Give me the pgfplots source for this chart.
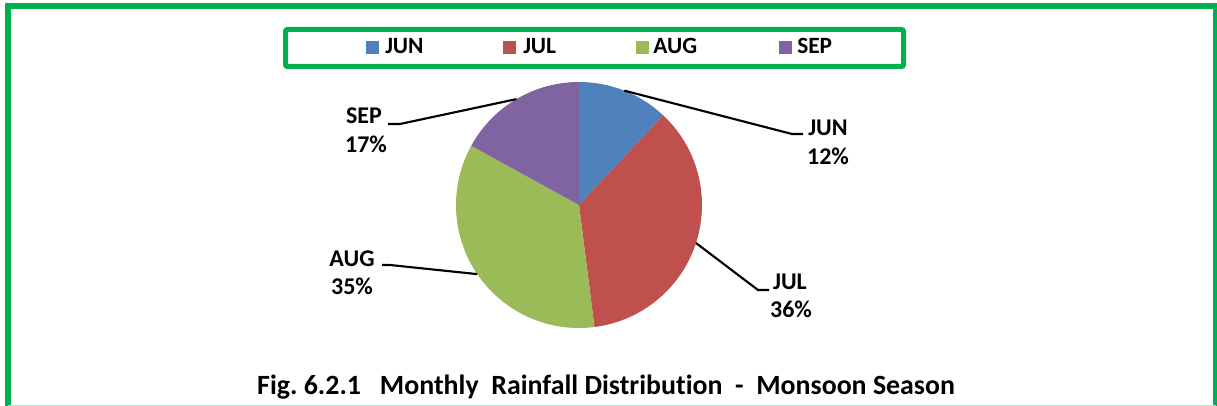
\documentclass[border=0pt]{standalone}
\usepackage{fontspec}
\setmainfont{Carlito}[Ligatures=NoCommon]
\usepackage{pgfplots}
\pgfplotsset{compat=1.18}
\definecolor{junc}{HTML}{4F81BD}
\definecolor{julc}{HTML}{C0504D}
\definecolor{augc}{HTML}{9BBB59}
\definecolor{sepc}{HTML}{8064A2}
\definecolor{boxgreen}{HTML}{00B050}

% monthly share of monsoon rainfall (%)
\def\vjun{12}
\def\vjul{36}
\def\vaug{35}
\def\vsep{17}
% slice boundaries, clockwise from 12 o'clock
\pgfmathsetmacro\aA{90}
\pgfmathsetmacro\aB{\aA-3.6*\vjun}
\pgfmathsetmacro\aC{\aB-3.6*\vjul}
\pgfmathsetmacro\aD{\aC-3.6*\vaug}
\pgfmathsetmacro\aE{\aD-3.6*\vsep}
\pgfmathsetmacro\mA{(\aA+\aB)/2}
\pgfmathsetmacro\mB{(\aB+\aC)/2}
\pgfmathsetmacro\mC{(\aC+\aD)/2}
\pgfmathsetmacro\mD{(\aD+\aE)/2}
\def\R{92.25pt}
\frenchspacing

\begin{document}
\begin{tikzpicture}
\begin{axis}[
  hide axis,
  x=0.75pt, y=0.75pt,
  xmin=0, xmax=1217, ymin=0, ymax=406,
  clip=false,
]
\coordinate (bl) at (axis cs:0,0);
\coordinate (tr) at (axis cs:1217,406);
% outer frame
\draw[boxgreen, line width=4.5pt] (axis cs:8,0) -- (axis cs:8,400) -- (axis cs:1216,400) -- (axis cs:1216,0);
\draw[boxgreen!30, line width=0.9pt] (axis cs:8,0.8) -- (axis cs:1216,0.8);
% legend
\draw[boxgreen, line width=3.75pt, rounded corners=1.5pt] (axis cs:285.5,339.5) rectangle (axis cs:903.5,376.5);
\fill[junc] (axis cs:366,351.5) rectangle (axis cs:379,364.5);
\fill[julc] (axis cs:503,351.5) rectangle (axis cs:516,364.5);
\fill[augc] (axis cs:635.5,351.5) rectangle (axis cs:648.5,364.5);
\fill[sepc] (axis cs:778.5,351.5) rectangle (axis cs:791.5,364.5);
\begin{scope}[every node/.style={font=\fontsize{17.5}{20}\selectfont\bfseries, anchor=base west, inner sep=0pt}]
\node at (axis cs:385,352) {JUN};
\node at (axis cs:523,352) {JUL};
\node at (axis cs:653,352) {AUG};
\node at (axis cs:797,352) {SEP};
\end{scope}
% pie
\fill[junc] (axis cs:579,201) -- ++(\aA:\R) arc[start angle=\aA, end angle=\aB, radius=\R] -- cycle;
\fill[julc] (axis cs:579,201) -- ++(\aB:\R) arc[start angle=\aB, end angle=\aC, radius=\R] -- cycle;
\fill[augc] (axis cs:579,201) -- ++(\aC:\R) arc[start angle=\aC, end angle=\aD, radius=\R] -- cycle;
\fill[sepc] (axis cs:579,201) -- ++(\aD:\R) arc[start angle=\aD, end angle=\aE, radius=\R] -- cycle;
% leader lines
\begin{scope}[line width=1.6pt, black]
\draw (axis cs:579,201) ++(\mA:\R) -- (axis cs:792,272) -- (axis cs:803,272);
\draw (axis cs:579,201) ++(\mB:\R) -- (axis cs:758,116) -- (axis cs:769,116);
\draw (axis cs:579,201) ++(\mC:\R) -- (axis cs:390,141) -- (axis cs:382,141);
\draw (axis cs:579,201) ++(\mD:\R) -- (axis cs:400,282) -- (axis cs:388,282);
\end{scope}
\begin{scope}[every node/.style={font=\fontsize{18}{22}\selectfont\bfseries, anchor=base, inner sep=0pt}]
\node at (axis cs:828,270) {JUN};
\node at (axis cs:828,241) {12\%};
\node at (axis cs:790,116) {JUL};
\node at (axis cs:791,88) {36\%};
\node at (axis cs:352,139) {AUG};
\node at (axis cs:352,111) {35\%};
\node at (axis cs:364,282) {SEP};
\node at (axis cs:366,253) {17\%};
\end{scope}
% caption
\node[font=\fontsize{20.9}{24}\selectfont\bfseries, anchor=base, inner sep=0pt] at (axis cs:606,11)
  {Fig. 6.2.1\ \ \ Monthly\ \ Rainfall Distribution\ \ -\ \ Monsoon Season};
\end{axis}
\pgfresetboundingbox
\path (bl) rectangle (tr);
\end{tikzpicture}
\end{document}
